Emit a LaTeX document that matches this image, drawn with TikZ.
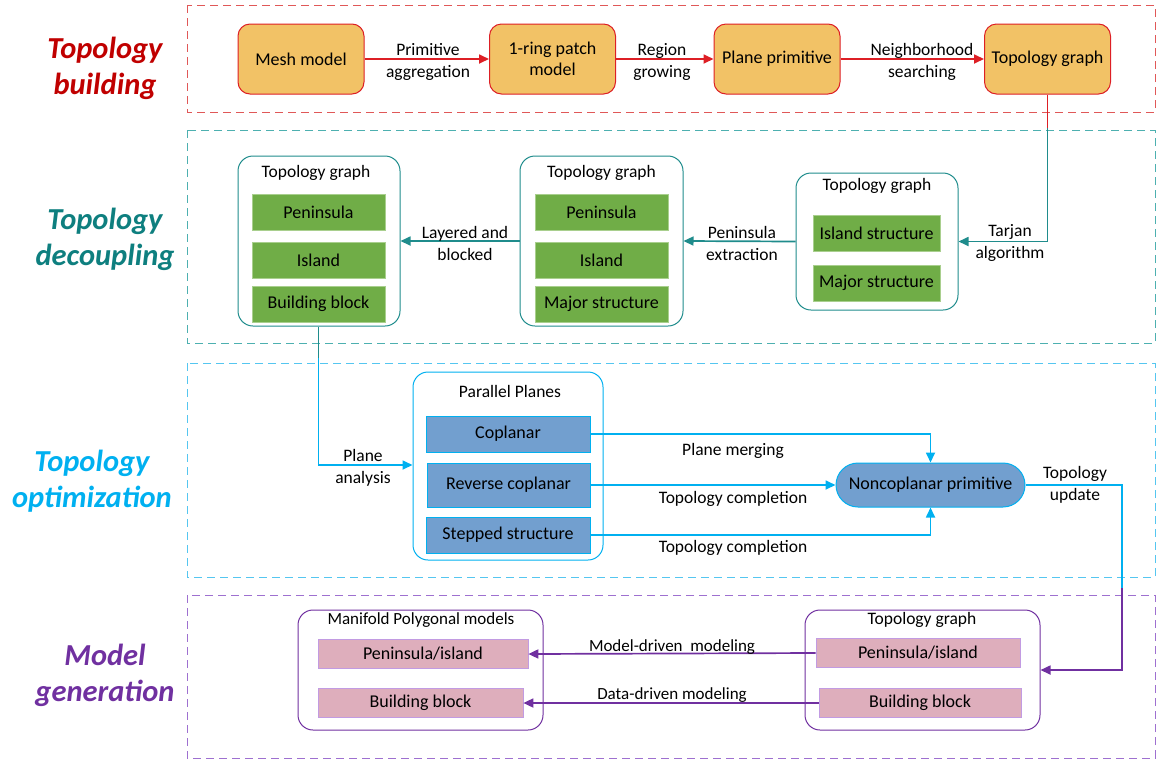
\documentclass[tikz,border=0pt]{standalone}
\usepackage{fontspec}
\setmainfont{Carlito}
\usetikzlibrary{arrows.meta,calc}
\definecolor{redT}{HTML}{C00000}
\definecolor{redL}{HTML}{DD1F25}
\definecolor{redD}{HTML}{E05858}
\definecolor{orangeF}{HTML}{F2C266}
\definecolor{tealT}{HTML}{0E7F7F}
\definecolor{tealL}{HTML}{1F8C8C}
\definecolor{tealD}{HTML}{4DB0B0}
\definecolor{greenF}{HTML}{70AD47}
\definecolor{greenB}{HTML}{A9CF8E}
\definecolor{blueT}{HTML}{00B0F0}
\definecolor{blueD}{HTML}{55C6F0}
\definecolor{blueF}{HTML}{729FCF}
\definecolor{purT}{HTML}{7030A0}
\definecolor{purD}{HTML}{9E70D0}
\definecolor{pinkF}{HTML}{DEAEBC}
\definecolor{pinkB}{HTML}{C29BE2}
\tikzset{
  sect/.style={draw=#1, dash pattern=on 8pt off 5pt, line width=1pt},
  sectitle/.style={font=\fontsize{30.5}{36}\selectfont\bfseries\itshape, align=center, text=#1},
  obox/.style={draw=redL, fill=orangeF, rounded corners=12pt, line width=1pt, align=center,
    minimum width=126pt, minimum height=70pt, font=\fontsize{18}{21}\selectfont},
  cont/.style={draw=#1, rounded corners=15pt, line width=1pt},
  ctitle/.style={font=\fontsize{17.5}{20}\selectfont},
  gbox/.style={draw=greenB, fill=greenF, line width=0.6pt, minimum width=133pt, minimum height=36pt,
    font=\fontsize{18}{21}\selectfont},
  bbox/.style={draw=blueT, fill=blueF, line width=0.8pt, minimum width=164pt,
    font=\fontsize{18}{21}\selectfont},
  pbox/.style={draw=pinkB, fill=pinkF, line width=0.7pt, minimum height=29pt,
    font=\fontsize{18}{21}\selectfont},
  lbl/.style={font=\fontsize{17.5}{22}\selectfont, align=center, inner sep=0pt},
  conn/.style={draw=#1, line width=1.7pt, -{Triangle[length=10pt,width=9pt]}},
  seg/.style={draw=#1, line width=1.7pt},
}
\begin{document}
\begin{tikzpicture}[x=1pt,y=-1pt]
\useasboundingbox (0,0) rectangle (1156,761);
% sections
\draw[sect=redD] (187,5) rectangle (1155,112);
\draw[sect=tealD] (187,130) rectangle (1155,343);
\draw[sect=blueD] (187,363) rectangle (1155,577);
\draw[sect=purD] (187,595) rectangle (1155,758);
\node[sectitle=redT] (t1) at (105,68) {Topology\\building};
\node[sectitle=tealT] (t2) at (105,239) {Topology\\decoupling};
\node[sectitle=blueT] (t3) at (92,481) {Topology\\optimization};
\node[sectitle=purT] (t4) at (105,675) {Model\\generation};

% row 1
\node[obox] (mesh) at (301,59) {Mesh model};
\node[obox] (ring) at (552.5,59) {1-ring patch\\model};
\node[obox] (plane) at (777,59) {Plane primitive};
\node[obox] (tg) at (1047.5,59) {Topology graph};
\path[conn=redL] (mesh) -- (ring);
\path[conn=redL] (ring) -- (plane);
\path[conn=redL] (plane) -- (tg);
\node[lbl] (l1) at (428,62) {Primitive\\aggregation};
\node[lbl] (l2) at (662,62) {Region\\growing};
\node[lbl] (l3) at (922,62) {Neighborhood\\searching};

% row 2
\node[cont=tealL, minimum width=162pt, minimum height=170pt] (ca) at (319,241) {};
\node[ctitle] (cat) at (316,173) {Topology graph};
\node[gbox] (pa) at (318.5,212) {Peninsula};
\node[gbox] (ia) at (318.5,260) {Island};
\node[gbox] (ba) at (318.5,304) {Building block};

\node[cont=tealL, minimum width=163pt, minimum height=170pt] (cb) at (601.5,241) {};
\node[ctitle] (cbt) at (601.5,173) {Topology graph};
\node[gbox] (pb) at (601.5,212) {Peninsula};
\node[gbox] (ib) at (601.5,260) {Island};
\node[gbox] (mb) at (601.5,304) {Major structure};

\node[cont=tealL, minimum width=162pt, minimum height=137pt] (cc) at (877,241.5) {};
\node[ctitle] (cct) at (877,186) {Topology graph};
\node[gbox, minimum width=127pt] (ic) at (876.5,233) {Island structure};
\node[gbox, minimum width=127pt] (mc) at (876.5,283) {Major structure};

\coordinate (k1) at (1047.5,128);
\path[seg=redL] (tg.south) -- (k1);
\path[conn=tealL] (k1) |- (cc.east);
\path[conn=tealL] (cc.west) -- (cb.east);
\path[conn=tealL] (cb.west) -- (ca.east);
\node[lbl] (l4) at (1010,243) {Tarjan\\algorithm};
\node[lbl] (l5) at (742,243) {Peninsula\\extraction};
\node[lbl] (l6) at (465,243) {Layered and\\blocked};

% row 3
\node[cont=blueT, minimum width=190pt, minimum height=188pt] (pp) at (508,466) {};
\node[ctitle] (ppt) at (510,391) {Parallel Planes};
\node[bbox, minimum height=36pt] (cop) at (508,434) {Coplanar};
\node[bbox, minimum height=44pt, minimum width=163pt] (rev) at (508.5,485) {Reverse coplanar};
\node[bbox, minimum height=36pt] (stp) at (508,535) {Stepped structure};
\node[draw=blueT, fill=blueF, line width=1pt, rounded corners=22pt, minimum width=189pt, minimum height=44pt,
  font=\fontsize{18}{21}\selectfont] (nc) at (930.5,485) {Noncoplanar primitive};

\coordinate (k2) at (318.5,358);
\path[seg=tealL] (ba.south |- ca.south) -- (k2);
\path[conn=blueT] (k2) |- (pp.west |- 0,465);
\path[conn=blueT] (cop.east) -| (nc.north);
\path[conn=blueT] (rev.east) -- (nc.west);
\path[conn=blueT] (stp.east) -| (nc.south);
\node[lbl] (l7) at (363,468) {Plane\\analysis};
\node[lbl] (l8) at (733,451) {Plane merging};
\node[lbl] (l9) at (733,499) {Topology completion};
\node[lbl] (l10) at (733,548) {Topology completion};

% row 4
\node[cont=purT, minimum width=245pt, minimum height=120pt] (mp) at (420.5,670) {};
\node[ctitle, font=\fontsize{17}{20}\selectfont] (mpt) at (421,620) {Manifold Polygonal models};
\node[pbox, minimum width=210pt] (pl) at (423,654) {Peninsula/island};
\node[pbox, minimum width=205pt] (bl) at (420.5,703) {Building block};

\node[cont=purT, minimum width=235pt, minimum height=120pt] (tr) at (922.5,670) {};
\node[ctitle] (trt) at (922,620) {Topology graph};
\node[pbox, minimum width=204pt] (pr) at (918,653) {Peninsula/island};
\node[pbox, minimum width=202pt] (br) at (920,703) {Building block};

\coordinate (k3a) at (1122,485);
\coordinate (k3) at (1122,588);
\path[seg=blueT] (nc.east) -- (k3a) -- (k3);
\path[conn=purT] (k3) |- (tr.east |- 0,670);
\node[lbl] (l11) at (1075,485) {Topology\\update};

\path[conn=purT] (pr.west) -- (pl.east);
\path[conn=purT] (br.west) -- (bl.east);
\node[lbl, font=\fontsize{17}{20}\selectfont] (l12) at (672,647) {Model-driven\ \ modeling};
\node[lbl, font=\fontsize{17}{20}\selectfont] (l13) at (672,695) {Data-driven modeling};
\end{tikzpicture}
\end{document}
